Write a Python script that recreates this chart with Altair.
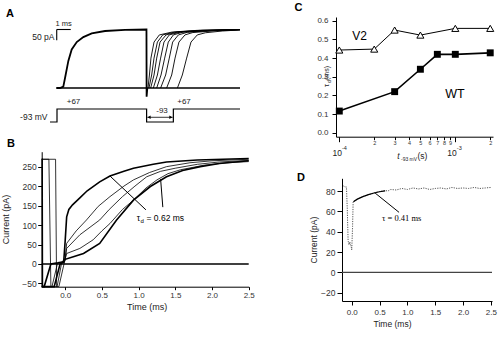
import altair as alt
import pandas as pd

FONT = "Liberation Sans"
SERIF = "Liberation Serif"

# ---------------- Panel A : time (ms), current (pA), voltage (mV) ----------------
a_first_t = [0.0, 0.21, 0.45, 0.57, 0.81, 1.05, 1.41, 1.88, 2.48, 3.43, 4.86, 6.39, 6.40, 6.45]
a_first_i = [0, 0, 6, 45, 125, 178, 212, 235, 252, 263, 268, 270, -40, 0]

a_rec_t = [
    [6.50, 6.60, 6.71, 6.93, 7.31, 8.20, 10.0, 13.07],
    [6.57, 6.76, 6.93, 7.17, 7.55, 8.40, 10.2, 13.07],
    [6.69, 6.93, 7.12, 7.36, 7.79, 8.60, 10.4, 13.07],
    [6.88, 7.17, 7.40, 7.64, 8.02, 8.80, 10.6, 13.07],
    [7.12, 7.43, 7.69, 7.95, 8.31, 9.00, 10.8, 13.07],
    [7.40, 7.76, 8.02, 8.26, 8.67, 9.30, 11.0, 13.07],
    [7.83, 8.19, 8.43, 8.71, 9.14, 9.70, 11.3, 13.07],
    [8.60, 8.95, 9.26, 9.57, 10.02, 10.60, 11.8, 13.07],
]
a_rec_i = [
    [0, 60, 138, 212, 245, 258, 266, 270],
    [0, 60, 138, 212, 245, 258, 266, 270],
    [0, 60, 138, 212, 245, 258, 266, 270],
    [0, 60, 138, 212, 245, 258, 265, 270],
    [0, 60, 138, 212, 245, 258, 265, 269],
    [0, 60, 138, 212, 245, 257, 265, 269],
    [0, 60, 138, 212, 245, 256, 264, 269],
    [0, 60, 138, 212, 245, 255, 263, 268],
]
a_volt_t = [-0.5, 0.0, 0.0, 6.40, 6.40, 8.31, 8.31, 13.07]
a_volt_mv = [-93, -93, 67, 67, -93, -93, 67, 67]

# ---------------- Panel B : time (ms), current (pA) ----------------
b_t = [
    [-0.32, -0.314, -0.31, -0.286, -0.195, -0.10, -0.02, 0.0, 0.02, 0.05, 0.10, 0.20, 0.30, 0.47, 0.61, 0.80, 0.93, 1.20, 1.38, 1.80, 2.50],
    [-0.32, -0.222, -0.195, -0.18, -0.104, -0.05, 0.0, 0.02, 0.15, 0.29, 0.45, 0.61, 0.80, 0.93, 1.15, 1.38, 1.70, 2.00, 2.50],
    [-0.32, -0.131, -0.117, -0.11, -0.049, 0.0, 0.02, 0.20, 0.47, 0.60, 0.78, 0.95, 1.11, 1.30, 1.50, 1.80, 2.10, 2.50],
    [-0.32, -0.086, -0.004, 0.02, 0.20, 0.38, 0.50, 0.61, 0.78, 0.93, 1.10, 1.25, 1.40, 1.57, 1.90, 2.20, 2.50],
    [-0.32, -0.15, -0.07, -0.02, 0.0, 0.10, 0.25, 0.47, 0.70, 0.93, 1.16, 1.38, 1.60, 1.84, 2.10, 2.50],
]
b_i = [
    [269, 269, -58, -58, 0, 3, 6, 60, 121, 140, 152, 170, 188, 211, 226, 238, 246, 256, 262, 267, 271],
    [269, 269, -58, -58, 2, 4, 15, 53, 85, 113, 148, 173, 200, 216, 235, 250, 260, 265, 269],
    [269, 269, -58, -58, 2, 12, 40, 75, 113, 140, 173, 200, 224, 238, 246, 256, 262, 266],
    [-58, -58, 10, 27, 40, 62, 85, 104, 140, 164, 195, 216, 232, 242, 254, 260, 263],
    [-58, -58, 0, 5, 12, 18, 27, 53, 113, 164, 199, 224, 240, 250, 258, 265],
]
b_w = [1.6, 0.8, 0.8, 0.8, 1.6]
b_ticks_x = [0.0, 0.5, 1.0, 1.5, 2.0, 2.5]
b_ticks_y = [-50, 0, 50, 100, 150, 200, 250]

# ---------------- Panel C : interval (s), tau_d (ms) ----------------
c_v2_t = [1e-4, 2e-4, 3e-4, 5e-4, 1e-3, 2e-3]
c_v2_tau = [0.443, 0.448, 0.55, 0.523, 0.559, 0.559]
c_wt_t = [1e-4, 3e-4, 5e-4, 7e-4, 1e-3, 2e-3]
c_wt_tau = [0.116, 0.22, 0.34, 0.42, 0.42, 0.428]
c_ticks_x = [1e-4, 2e-4, 3e-4, 4e-4, 5e-4, 6e-4, 7e-4, 8e-4, 9e-4, 1e-3, 2e-3]
c_ticks_y = [0.0, 0.1, 0.2, 0.3, 0.4, 0.5, 0.6]

# ---------------- Panel D : time (ms), current (pA) ----------------
d_t = [-0.15, -0.12, -0.095, -0.08, -0.065, -0.05, -0.035, -0.02, -0.005, 0.0,
       0.015, 0.025, 0.04, 0.06, 0.09, 0.12, 0.16, 0.2, 0.25, 0.3,
       0.35, 0.4, 0.45, 0.5, 0.55, 0.6, 0.65, 0.7, 0.8, 0.9,
       1.0, 1.1, 1.2, 1.3, 1.4, 1.5, 1.6, 1.7, 1.8, 1.9,
       2.0, 2.1, 2.2, 2.3, 2.4, 2.5]
d_i = [85, 84, 84, 62, 31, 27, 30, 27, 24, 22,
       45, 69, 70, 70.5, 71.5, 72.5, 73.5, 74.5, 75.5, 76.5,
       77, 78, 79, 79.5, 80, 80.5, 80, 81.5, 81, 82.5,
       81.5, 83, 82, 83, 81.5, 82.5, 83, 82, 83.5, 82.5,
       83, 82.5, 83.5, 82.5, 83, 83.5]
d_fit_t = [0.03, 0.1, 0.2, 0.3, 0.4, 0.5, 0.6]
d_fit_i = [69.5, 72, 74.5, 76.5, 78, 79.3, 80.2]
d_ticks_x = [0.0, 0.5, 1.0, 1.5, 2.0, 2.5]
d_ticks_y = [-20, 0, 20, 40, 60, 80]


def long_df(ts, vs, ws):
    rows = []
    for j, (tt, vv) in enumerate(zip(ts, vs)):
        for k, (t, v) in enumerate(zip(tt, vv)):
            rows.append({"trace": j, "k": k, "t": t, "v": v, "w": ws[j]})
    return pd.DataFrame(rows)


def sc(d, r, typ="linear"):
    return alt.Scale(type=typ, domain=d, range=r, nice=False, zero=False)


# pixel placement of each panel through its scales
A_X = ([0, 13.07], [57, 240])
A_Y = ([0, 270], [88, 29.5])
A_V = ([-93, 67], [122, 109])
B_X = ([-0.32, 2.5], [41.7, 248.7])
B_Y = ([-58.3, 288.4], [286.7, 151.7])
C_X = ([9.366e-5, 2.113e-3], [336, 493])
C_Y = ([-0.0214, 0.62], [136.7, 17])
D_X = ([-0.175, 2.52], [342, 492])
D_Y = ([-28.2, 92.5], [301, 178.3])

AX = dict(grid=False, domainColor="black", domainWidth=1, tickColor="black", tickWidth=1,
          labelFont=FONT, labelColor="#333", labelFlush=False, labelOverlap=False,
          titleFont=FONT, titleFontWeight="normal", titleColor="#222")

layers = []

# ---- Panel A ----
a_df = long_df([a_first_t] + a_rec_t, [a_first_i] + a_rec_i, [1.8] + [0.9] * len(a_rec_t))
layers.append(alt.Chart(a_df).mark_line(color="black").encode(
    x=alt.X("t:Q", scale=sc(*A_X), axis=None),
    y=alt.Y("v:Q", scale=sc(*A_Y), axis=None),
    detail="trace:N", order="k:Q",
    strokeWidth=alt.StrokeWidth("w:Q", scale=None)))
base_df = pd.DataFrame({"t0": [-0.07], "t1": [13.07], "v": [0]})
layers.append(alt.Chart(base_df).mark_rule(color="black", strokeWidth=1.3).encode(
    x=alt.X("t0:Q", scale=sc(*A_X), axis=None), x2="t1:Q",
    y=alt.Y("v:Q", scale=sc(*A_Y), axis=None)))
bar_df = pd.DataFrame({"t0": [-0.02, -0.02], "t1": [0.98, -0.02], "v0": [270, 220], "v1": [270, 270]})
layers.append(alt.Chart(bar_df).mark_rule(color="black", strokeWidth=1.1).encode(
    x=alt.X("t0:Q", scale=sc(*A_X), axis=None), x2="t1:Q",
    y=alt.Y("v0:Q", scale=sc(*A_Y), axis=None), y2="v1:Q"))
volt_df = pd.DataFrame({"t": a_volt_t, "v": a_volt_mv, "k": list(range(len(a_volt_t)))})
layers.append(alt.Chart(volt_df).mark_line(color="black", strokeWidth=1.2).encode(
    x=alt.X("t:Q", scale=sc(*A_X), axis=None),
    y=alt.Y("v:Q", scale=sc(*A_V), axis=None), order="k:Q"))
arr_df = pd.DataFrame({"t0": [6.45], "t1": [8.26], "v": [-35]})
layers.append(alt.Chart(arr_df).mark_rule(color="black", strokeWidth=0.8).encode(
    x=alt.X("t0:Q", scale=sc(*A_X), axis=None), x2="t1:Q",
    y=alt.Y("v:Q", scale=sc(*A_V), axis=None)))
head_df = pd.DataFrame({"t": [6.58, 8.13], "v": [-35, -35], "s": ["triangle-left", "triangle-right"]})
layers.append(alt.Chart(head_df).mark_point(filled=True, color="black", size=12, opacity=1).encode(
    x=alt.X("t:Q", scale=sc(*A_X), axis=None),
    y=alt.Y("v:Q", scale=sc(*A_V), axis=None),
    shape=alt.Shape("s:N", scale=None)))

# ---- Panel B ----
b_df = long_df(b_t, b_i, b_w)
layers.append(alt.Chart(b_df).mark_line(color="black").encode(
    x=alt.X("t:Q", scale=sc(*B_X),
            axis=alt.Axis(orient="bottom", offset=-50.3, values=b_ticks_x, format=".1f",
                          title="Time (ms)", titleX=146.7, titleY=19.5, titleBaseline="middle",
                          titleFontSize=9, labelFontSize=8, labelPadding=1.5, tickSize=3, **AX)),
    y=alt.Y("v:Q", scale=sc(*B_Y),
            axis=alt.Axis(orient="left", offset=-41.7, values=b_ticks_y, format="d",
                          title="Current (pA)", titleX=-36.2, titleY=219, titleAngle=270,
                          titleBaseline="middle", titleAlign="center",
                          titleFontSize=9, labelFontSize=8.5, labelPadding=1.5, tickSize=4, **AX)),
    detail="trace:N", order="k:Q",
    strokeWidth=alt.StrokeWidth("w:Q", scale=None)))
bz_df = pd.DataFrame({"t0": [-0.32], "t1": [2.5], "v": [0]})
layers.append(alt.Chart(bz_df).mark_rule(color="black", strokeWidth=1.5).encode(
    x=alt.X("t0:Q", scale=sc(*B_X), axis=None), x2="t1:Q",
    y=alt.Y("v:Q", scale=sc(*B_Y), axis=None)))
blead_df = pd.DataFrame({"t0": [0.61, 1.30], "t1": [1.10, 1.33], "v0": [226, 218], "v1": [139, 146]})
layers.append(alt.Chart(blead_df).mark_rule(color="black", strokeWidth=1).encode(
    x=alt.X("t0:Q", scale=sc(*B_X), axis=None), x2="t1:Q",
    y=alt.Y("v0:Q", scale=sc(*B_Y), axis=None), y2="v1:Q"))

# ---- Panel C ----
cv_df = pd.DataFrame({"t": c_v2_t, "tau": c_v2_tau})
cw_df = pd.DataFrame({"t": c_wt_t, "tau": c_wt_tau})
label_expr = ("round(datum.value*10000) == 1 || round(datum.value*10000) == 10 ? '' : "
              "(round(datum.value*10000) == 20 ? '2' : '' + round(datum.value*10000))")
layers.append(alt.Chart(cv_df).mark_line(color="black", strokeWidth=1).encode(
    x=alt.X("t:Q", scale=sc(*C_X, typ="log"),
            axis=alt.Axis(orient="bottom", offset=-200.3, values=c_ticks_x, labelExpr=label_expr,
                          title=None, labelFontSize=5.5, labelPadding=0.5,
                          tickSize={"condition": {"test": "datum.value == 0.0001 || datum.value == 0.001",
                                                  "value": 5}, "value": 3}, **AX)),
    y=alt.Y("tau:Q", scale=sc(*C_Y),
            axis=alt.Axis(orient="left", offset=-336, values=c_ticks_y, format=".1f", title=None,
                          labelFontSize=8, labelPadding=4, tickSize=4, **AX))))
layers.append(alt.Chart(cw_df).mark_line(color="black", strokeWidth=1.6).encode(
    x=alt.X("t:Q", scale=sc(*C_X, typ="log"), axis=None),
    y=alt.Y("tau:Q", scale=sc(*C_Y), axis=None)))
layers.append(alt.Chart(cv_df).mark_point(shape="triangle-up", filled=True, fill="white",
                                          stroke="black", strokeWidth=1, size=50, opacity=1).encode(
    x=alt.X("t:Q", scale=sc(*C_X, typ="log"), axis=None),
    y=alt.Y("tau:Q", scale=sc(*C_Y), axis=None)))
layers.append(alt.Chart(cw_df).mark_point(shape="square", filled=True, color="black",
                                          size=48, opacity=1).encode(
    x=alt.X("t:Q", scale=sc(*C_X, typ="log"), axis=None),
    y=alt.Y("tau:Q", scale=sc(*C_Y), axis=None)))

# ---- Panel D ----
d_df = pd.DataFrame({"t": d_t, "v": d_i, "k": list(range(len(d_t)))})
layers.append(alt.Chart(d_df).mark_line(color="#555", strokeWidth=1, strokeDash=[1.2, 1.2]).encode(
    x=alt.X("t:Q", scale=sc(*D_X),
            axis=alt.Axis(orient="bottom", offset=-36, values=d_ticks_x, format=".1f",
                          title="Time (ms)", titleX=392, titleY=22.5, titleBaseline="middle",
                          titleFontSize=8.5, labelFontSize=8, labelPadding=3, tickSize=4, **AX)),
    y=alt.Y("v:Q", scale=sc(*D_Y),
            axis=alt.Axis(orient="left", offset=-342, values=d_ticks_y, format="d",
                          title="Current (pA)", titleX=-29, titleY=239.6, titleAngle=270,
                          titleBaseline="middle", titleAlign="center",
                          titleFontSize=8.5, labelFontSize=8.5, labelPadding=2, tickSize=5, **AX)),
    order="k:Q"))
dfit_df = pd.DataFrame({"t": d_fit_t, "v": d_fit_i})
layers.append(alt.Chart(dfit_df).mark_line(color="black", strokeWidth=1.2).encode(
    x=alt.X("t:Q", scale=sc(*D_X), axis=None),
    y=alt.Y("v:Q", scale=sc(*D_Y), axis=None)))
dz_df = pd.DataFrame({"t0": [-0.175], "t1": [2.52], "v": [0]})
layers.append(alt.Chart(dz_df).mark_rule(color="#444", strokeWidth=1.3).encode(
    x=alt.X("t0:Q", scale=sc(*D_X), axis=None), x2="t1:Q",
    y=alt.Y("v:Q", scale=sc(*D_Y), axis=None)))
dlead_df = pd.DataFrame({"t0": [0.42], "t1": [0.85], "v0": [78], "v1": [59]})
layers.append(alt.Chart(dlead_df).mark_rule(color="black", strokeWidth=1).encode(
    x=alt.X("t0:Q", scale=sc(*D_X), axis=None), x2="t1:Q",
    y=alt.Y("v0:Q", scale=sc(*D_Y), axis=None), y2="v1:Q"))

# ---- text annotations ----
dummy = pd.DataFrame({"d": [0]})


def txt(s, x, y, size, align="center", baseline="middle", font=FONT, weight="normal",
        style="normal", angle=0, color="black"):
    return alt.Chart(dummy).mark_text(text=s, align=align, baseline=baseline, font=font,
                                      fontSize=size, fontWeight=weight, fontStyle=style,
                                      angle=angle, color=color).encode(
        x=alt.value(x), y=alt.value(y))


texts = [
    txt("A", 10, 14, 11, weight="bold"),
    txt("B", 11, 144, 11, weight="bold"),
    txt("C", 298.5, 8, 11, weight="bold"),
    txt("D", 301, 178, 11, weight="bold"),
    txt("1 ms", 63.5, 24, 7.5, color="#222"),
    txt("50 pA", 54.5, 37, 8.5, align="right", color="#222"),
    txt("+67", 73.5, 102, 8, color="#222"),
    txt("+67", 184, 101.5, 8, color="#222"),
    txt("-93", 162, 111, 8, color="#222"),
    txt("-93 mV", 47.5, 117, 8.5, align="right", color="#222"),
    txt("τ", 136.7, 218, 8.5, align="left"),
    txt("d", 140.6, 221, 6, align="left"),
    txt("= 0.62 ms", 146.5, 218, 8.5, align="left"),
    txt("V2", 359.5, 36, 12),
    txt("WT", 455, 94, 12.5),
    txt("10", 337.2, 152.5, 8.5, color="#222"),
    txt("-4", 342, 148.2, 5.5, align="left", color="#222"),
    txt("10", 452, 152.5, 8.5, color="#222"),
    txt("-3", 456.8, 148.2, 5.5, align="left", color="#222"),
    txt("t", 398.5, 156, 8.5, style="italic", color="#222"),
    txt("-93 mV", 401, 158.5, 5, align="left", color="#222"),
    txt("(s)", 417.5, 156, 8.5, align="left", color="#222"),
    txt("τ", 327, 85.5, 7.5, angle=270, color="#222"),
    txt("d", 329, 81.5, 5, angle=270, color="#222"),
    txt("(ms)", 327, 73, 7, angle=270, color="#222"),
    txt("τ = 0.41 ms", 382, 217.7, 8.5, align="left", font=SERIF),
]

chart = alt.layer(*(layers + texts)).resolve_scale(x="independent", y="independent").properties(
    width=500, height=337, padding=0, background="white",
    autosize=alt.AutoSizeParams(type="none")
).configure_view(stroke=None)

chart.save("out.html", embed_options={"renderer": "svg", "actions": False})
